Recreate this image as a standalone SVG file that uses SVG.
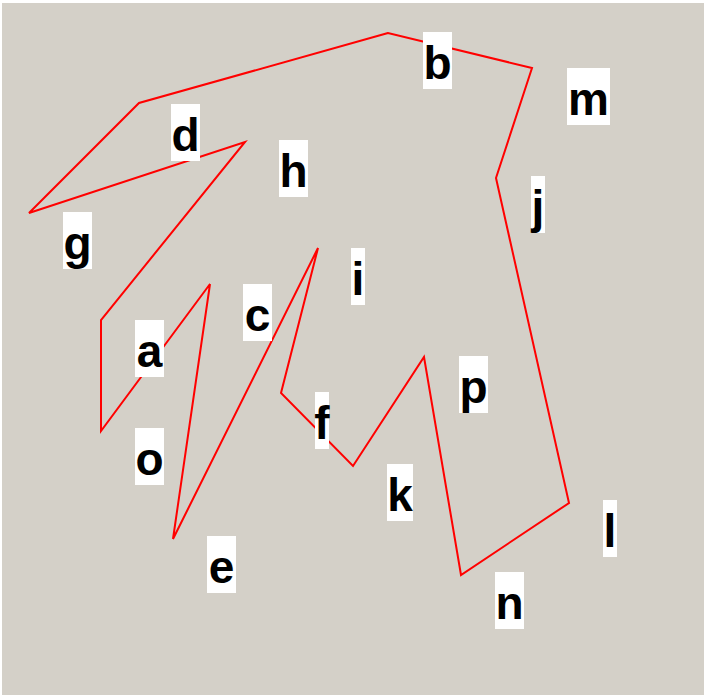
<svg xmlns="http://www.w3.org/2000/svg" width="706" height="697" viewBox="0 0 706 697">
<style>
.lb rect{fill:#ffffff}
.lb text{font-family:"Liberation Sans",Arial,sans-serif;font-weight:bold;font-size:46px;fill:#000000;text-anchor:middle}
.edge{fill:none;stroke:#ff0000;stroke-width:2;stroke-linejoin:miter}
</style>
<rect x="0" y="0" width="706" height="697" fill="#ffffff"/>
<rect x="2" y="3" width="702" height="692" fill="#d4d0c8"/>
<g id="connectors">
<polygon class="edge" points="388,33 139,103 29,213 245,142 101,320 101,431 210,284 173,539 318,248 281,393 353,466 424,357 461,575 569,503 496,178 532,68"/>
</g>
<g id="node-b" class="lb"><rect x="423" y="32" width="29" height="57"/><text x="437.5" y="79">b</text></g>
<g id="node-m" class="lb"><rect x="567" y="68" width="43" height="57"/><text x="588.5" y="115">m</text></g>
<g id="node-d" class="lb"><rect x="171" y="104" width="29" height="57"/><text x="185.5" y="151">d</text></g>
<g id="node-h" class="lb"><rect x="279" y="140" width="29" height="57"/><text x="293.5" y="187">h</text></g>
<g id="node-j" class="lb"><rect x="531" y="176" width="14" height="57"/><text x="538" y="223">j</text></g>
<g id="node-g" class="lb"><rect x="63" y="212" width="29" height="57"/><text x="77.5" y="259">g</text></g>
<g id="node-i" class="lb"><rect x="351" y="248" width="14" height="57"/><text x="358" y="295">i</text></g>
<g id="node-c" class="lb"><rect x="243" y="284" width="29" height="57"/><text x="257.5" y="331">c</text></g>
<g id="node-a" class="lb"><rect x="135" y="320" width="29" height="57"/><text x="149.5" y="367">a</text></g>
<g id="node-p" class="lb"><rect x="459" y="356" width="29" height="57"/><text x="473.5" y="403">p</text></g>
<g id="node-f" class="lb"><rect x="315" y="392" width="14" height="57"/><text x="322" y="439">f</text></g>
<g id="node-o" class="lb"><rect x="135" y="428" width="29" height="57"/><text x="149.5" y="475">o</text></g>
<g id="node-k" class="lb"><rect x="387" y="464" width="26" height="57"/><text x="400" y="511">k</text></g>
<g id="node-l" class="lb"><rect x="603" y="500" width="14" height="57"/><text x="610" y="547">l</text></g>
<g id="node-e" class="lb"><rect x="207" y="536" width="29" height="57"/><text x="221.5" y="583">e</text></g>
<g id="node-n" class="lb"><rect x="495" y="572" width="29" height="57"/><text x="509.5" y="619">n</text></g>
</svg>
